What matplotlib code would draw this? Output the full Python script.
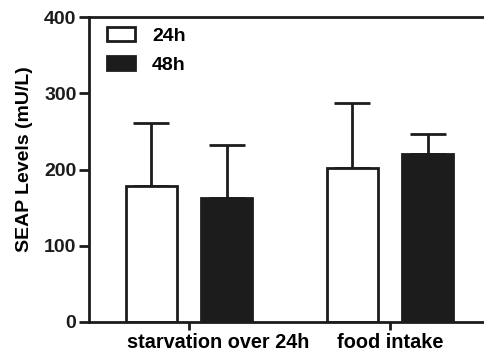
import matplotlib
matplotlib.use("Agg")
import matplotlib.pyplot as plt
import numpy as np
from matplotlib.patches import Patch

categories = ["starvation over 24h", "food intake"]
series_names = ["24h", "48h"]
means_24h = [178, 202]
err_24h = [83, 85]
means_48h = [162, 220]
err_48h = [70, 26]
yticks = [0, 100, 200, 300, 400]

plt.rcParams['font.family'] = ['Liberation Sans', 'DejaVu Sans']
plt.rcParams['font.weight'] = 'bold'

fig = plt.figure(figsize=(4.84, 3.53), dpi=100)
W, H = 484, 353
ax = fig.add_axes([89 / W, 1 - 322 / H, 400 / W, (322 - 17) / H])

x = np.arange(len(categories))
bw = 0.254
off = 0.188
lw = 2.0
dark = '#1c1c1c'
ax.bar(x - off, means_24h, bw, color='white', edgecolor=dark, linewidth=lw, zorder=2)
ax.bar(x + off, means_48h, bw, color=dark, edgecolor=dark, linewidth=lw, zorder=2)
ax.errorbar(x - off, means_24h, yerr=[np.zeros(2), err_24h], fmt='none', ecolor=dark,
            elinewidth=lw, capsize=13, capthick=lw, zorder=1)
ax.errorbar(x + off, means_48h, yerr=[np.zeros(2), err_48h], fmt='none', ecolor=dark,
            elinewidth=lw, capsize=13, capthick=lw, zorder=1)

ax.set_xlim(-0.4975, -0.4975 + 400 / 201)
ax.set_ylim(0, 400)
ax.set_yticks(yticks)
ax.set_yticklabels([str(v) for v in yticks], fontsize=14, fontweight='bold')
ax.set_xticks(x)
ax.set_xticklabels([])
label_shift = [29, 0]
for xi, lab, sh in zip(x, categories, label_shift):
    ax.annotate(lab, xy=(xi, 0), xycoords=('data', 'axes fraction'),
                xytext=(sh * 72 / 100, -11 * 72 / 100), textcoords='offset points',
                ha='center', va='top', fontsize=14.3, fontweight='bold', annotation_clip=False)
fig.text(25 / W, 1 - 159 / H, "SEAP Levels (mU/L)", rotation=90, ha='center', va='center',
         fontsize=14, fontweight='bold')
for s in ['left', 'bottom', 'top']:
    ax.spines[s].set_linewidth(lw)
    ax.spines[s].set_color(dark)
ax.spines['right'].set_visible(False)
ax.tick_params(axis='y', length=7, width=lw, pad=2, colors=dark)
ax.tick_params(axis='x', length=6, width=lw, pad=2, colors=dark)

handles = [Patch(facecolor='white', edgecolor=dark, linewidth=lw),
           Patch(facecolor=dark, edgecolor=dark, linewidth=lw)]
leg = ax.legend(handles, series_names, loc='upper left', frameon=False,
                prop={'size': 14, 'weight': 'bold'}, handlelength=1.45, handleheight=0.77,
                labelspacing=0.55, bbox_to_anchor=(18 / 400, 1 - 10 / 305), borderaxespad=0.0,
                borderpad=0.0, handletextpad=0.87)

fig.savefig("out.png", dpi=100)
